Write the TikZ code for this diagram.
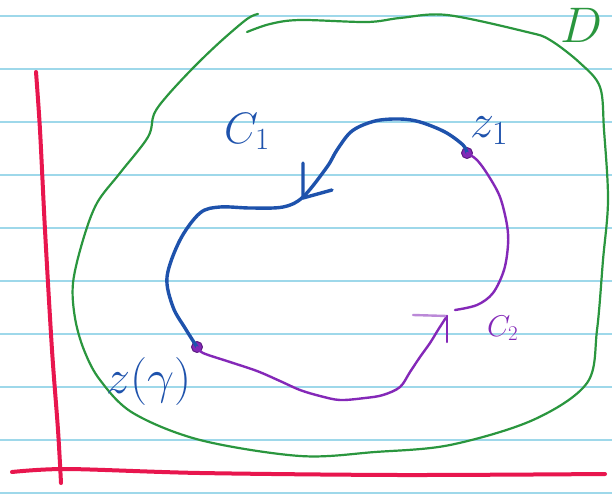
\RequirePackage{fix-cm}
\documentclass[tikz,border=0pt]{standalone}
\usetikzlibrary{positioning}
\definecolor{ruleblue}{RGB}{158,216,234}
\definecolor{axisred}{RGB}{232,22,78}
\definecolor{domgreen}{RGB}{42,150,62}
\definecolor{penblue}{RGB}{30,82,172}
\definecolor{penpurple}{RGB}{132,40,184}

\begin{document}
\begin{tikzpicture}[x=1pt,y=-1pt, line cap=round, line join=round,
    every node/.style={inner sep=0pt, font=\fontsize{44}{44}\selectfont},
    ruled/.style={ruleblue, line width=1.2pt},
    axisline/.style={axisred, line width=4pt},
    boundary/.style={domgreen, line width=2.2pt},
    curveone/.style={penblue, line width=3.4pt},
    curvetwo/.style={penpurple, line width=2.4pt},
    endpt/.style={circle, fill=penpurple, draw=penpurple!70!black, line width=1pt, minimum size=11pt}]
    \useasboundingbox[fill=white] (0,0) rectangle (612,495);
    % ruled paper
    \foreach \yy in {16,69,...,493}
        \draw[ruled] (0,\yy) -- (612,\yy);
    % axes
    \draw[axisline] plot[smooth] coordinates {(36,72) (40,130) (45,230) (52,350) (58,430) (61,483)};
    \draw[axisline] plot[smooth] coordinates {(12,472) (67,469) (200,473) (400,475) (605,474)};
    % domain D
    \draw[boundary] plot[smooth, tension=0.55] coordinates {(258,14) (247,19) (220,42) (193,68) (167,96)
        (154,114) (148,137) (120,173) (97,203) (83,240) (73,283) (75,318) (84,350) (100,380) (133,413)
        (200,440) (300,456) (375,452) (450,445) (533,420) (587,383) (597,330) (603,260) (608,200)
        (604,130) (600,87) (580,63) (550,40) (527,32) (447,15) (400,18) (367,22) (300,20) (270,24) (247,32)};
    \node[text=domgreen, font=\fontsize{50}{50}\selectfont, anchor=base west] (lbld) at (560,42) {$D$};
    % end points
    \node[endpt] (z1) at (467,153) {};
    \node[endpt] (zg) at (197,347) {};
    \node[text=penblue, font=\fontsize{48}{48}\selectfont, anchor=base west] (lblz1) at (470,137) {$z_1$};
    \node[text=penblue, font=\fontsize{48}{48}\selectfont, anchor=base west] (lblzg) at (106,393) {$z(\gamma)$};
    % C1
    \draw[curveone] plot[smooth, tension=0.55] coordinates {(z1.center) (463,145) (445,132) (420,122)
        (400,119) (375,121) (352,131) (337,150) (327,167) (303,197) (283,207) (250,208) (220,207)
        (200,213) (180,240) (167,277) (173,307) (185,328) (zg.center)};
    \draw[curveone] (303,163) -- (303,198) -- (332,190);
    \node[text=penblue, anchor=base west] (lblc1) at (224,143) {$C_1$};
    % C2
    \coordinate (c2tip) at (447,316);
    \coordinate (c2gap) at (455,310);
    \draw[curvetwo] plot[smooth, tension=0.55] coordinates {(zg.center) (203,353) (230,362) (257,371)
        (280,381) (300,390) (320,396) (340,400) (365,398) (383,395) (400,387) (410,372) (420,357)
        (430,343) (438,330) (c2tip)};
    \draw[curvetwo, penpurple!55] (413,315) -- (c2tip);
    \draw[curvetwo] (c2tip) -- (447,342);
    \draw[curvetwo] plot[smooth, tension=0.55] coordinates {(c2gap) (477,305) (493,293) (504,270)
        (508,245) (507,225) (500,197) (488,175) (477,160) (z1.center)};
    \node[text=penpurple, font=\fontsize{30}{30}\selectfont, anchor=base west] (lblc2) at (487,336) {$C_2$};
\end{tikzpicture}
\end{document}
